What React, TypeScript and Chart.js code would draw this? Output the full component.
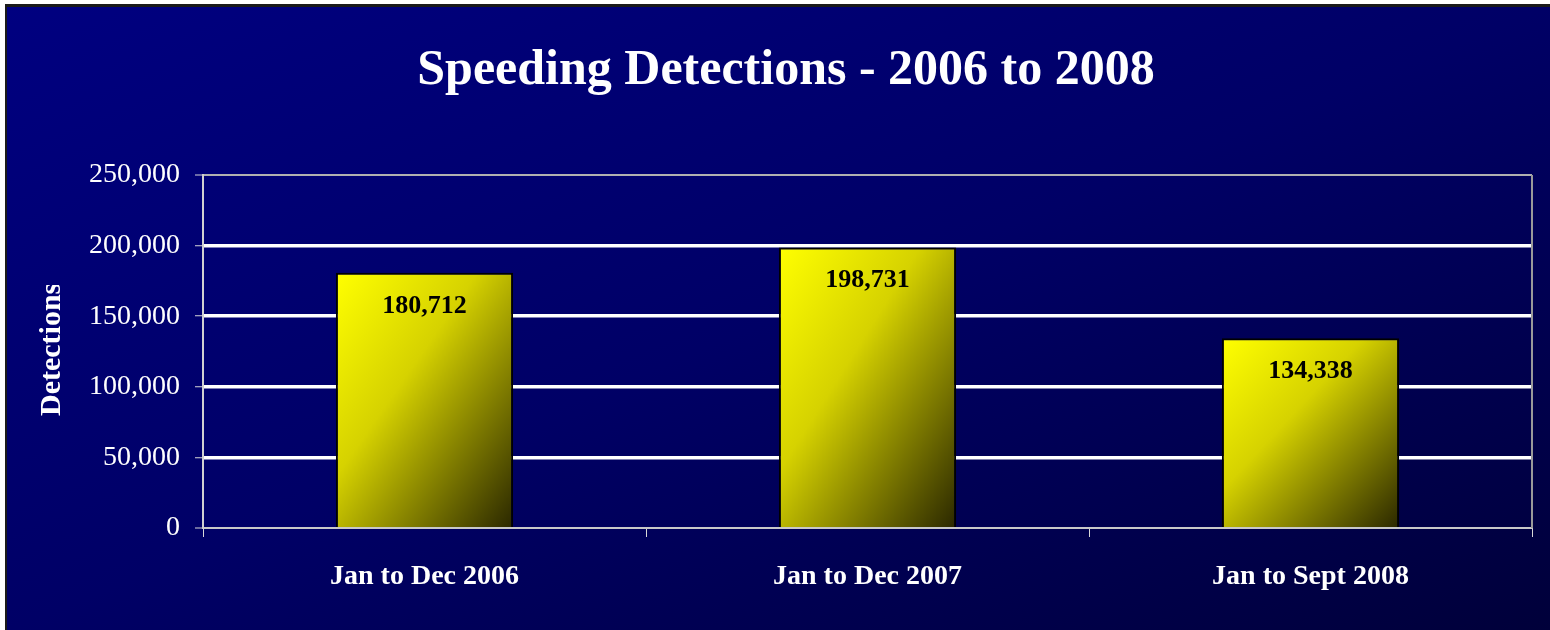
import React, { useEffect, useRef } from "react";
import { Chart, registerables } from "chart.js";

Chart.register(...registerables);

const categories = ["Jan to Dec 2006", "Jan to Dec 2007", "Jan to Sept 2008"];
const detections = [180712, 198731, 134338];
const yTicks = [0, 50000, 100000, 150000, 200000, 250000];
const titleText = "Speeding Detections - 2006 to 2008";
const yTitleText = "Detections";

const SERIF = "'Liberation Serif', 'DejaVu Serif', serif";

const fmt = (v: number) => v.toLocaleString("en-US");

const backgroundPlugin = {
  id: "bgFrame",
  beforeDraw(chart: any) {
    const { ctx, width, height } = chart;
    ctx.save();
    ctx.fillStyle = "#ffffff";
    ctx.fillRect(0, 0, width, height);
    ctx.fillStyle = "#1a1a1a";
    ctx.fillRect(5, 4, width - 5, height - 4);
    const w = width - 7;
    const h = height - 7;
    const f = (2 * w * h) / (w * w + h * h);
    const g = ctx.createLinearGradient(7, 7, 7 + h * f, 7 + w * f);
    g.addColorStop(0, "#000080");
    g.addColorStop(0.5, "#000066");
    g.addColorStop(1, "#00003a");
    ctx.fillStyle = g;
    ctx.fillRect(7, 7, w, h);
    ctx.restore();
  },
};

const decorPlugin = {
  id: "decor",
  afterDraw(chart: any) {
    const { ctx, chartArea } = chart;
    ctx.save();
    // title
    ctx.fillStyle = "#ffffff";
    ctx.font = `bold 50px ${SERIF}`;
    ctx.textAlign = "center";
    ctx.textBaseline = "alphabetic";
    ctx.fillText(titleText, 786, 84);
    // right border of plot area
    ctx.strokeStyle = "#9a9a9a";
    ctx.lineWidth = 2;
    ctx.beginPath();
    ctx.moveTo(chartArea.right, chartArea.top);
    ctx.lineTo(chartArea.right, chartArea.bottom);
    ctx.stroke();
    // data labels
    const meta = chart.getDatasetMeta(0);
    ctx.fillStyle = "#000000";
    ctx.font = `bold 26px ${SERIF}`;
    ctx.textAlign = "center";
    ctx.textBaseline = "middle";
    meta.data.forEach((el: any, i: number) => {
      ctx.fillText(fmt(detections[i]), el.x, el.y + 33);
    });
    // y axis title (clipped like the original)
    ctx.beginPath();
    ctx.rect(0, 285, 200, 300);
    ctx.clip();
    ctx.translate(52, 416);
    ctx.rotate(-Math.PI / 2);
    ctx.fillStyle = "#ffffff";
    ctx.font = `bold 30px ${SERIF}`;
    ctx.textAlign = "left";
    ctx.textBaseline = "middle";
    ctx.fillText(yTitleText, 0, 0);
    ctx.restore();
  },
};

function barGradient(context: any) {
  const chart = context.chart;
  const xs = chart.scales?.x;
  const ys = chart.scales?.y;
  const i = context.dataIndex;
  if (!xs || !ys || i === undefined || !chart.chartArea) return "#ffff00";
  const cx = xs.getPixelForValue(i);
  const bw = (chart.chartArea.right - chart.chartArea.left) / categories.length * 0.4;
  const left = cx - bw / 2;
  const top = ys.getPixelForValue(detections[i]);
  const bottom = ys.getPixelForValue(0);
  const w = bw;
  const h = bottom - top;
  const f = (2 * w * h) / (w * w + h * h);
  const g = chart.ctx.createLinearGradient(left, top, left + h * f, top + w * f);
  g.addColorStop(0, "#ffff00");
  g.addColorStop(0.4, "#d6d200");
  g.addColorStop(1, "#2a2700");
  return g;
}

export default function App() {
  const ref = useRef<HTMLCanvasElement>(null);
  useEffect(() => {
    if (!ref.current) return;
    const chart = new Chart(ref.current, {
      type: "bar",
      data: {
        labels: categories,
        datasets: [
          {
            data: detections,
            backgroundColor: barGradient as any,
            borderColor: "#000000",
            borderWidth: 2,
            borderSkipped: "bottom",
            barPercentage: 0.4,
            categoryPercentage: 1,
          },
        ],
      },
      options: {
        responsive: false,
        animation: false,
        devicePixelRatio: 1,
        layout: { padding: { left: 0, right: 18, top: 175, bottom: 0 } },
        plugins: {
          legend: { display: false },
          tooltip: { enabled: false },
          title: { display: false },
        },
        scales: {
          x: {
            grid: {
              display: true,
              drawOnChartArea: false,
              drawTicks: true,
              offset: true,
              tickLength: 9,
              tickColor: "#d8d8d8",
              tickWidth: 1,
            },
            border: { display: true, color: "#c8c8c8", width: 2 },
            ticks: {
              color: "#ffffff",
              font: { family: SERIF, size: 28, weight: "bold" },
              padding: 23,
            },
            afterFit(scale: any) {
              scale.height = 102;
            },
          },
          y: {
            min: 0,
            max: 250000,
            afterBuildTicks(scale: any) {
              scale.ticks = yTicks.map((v) => ({ value: v }));
            },
            grid: {
              color: (c: any) =>
                c.tick && (c.tick.value === 250000 || c.tick.value === 0) ? "#b0b0b0" : "#ffffff",
              lineWidth: (c: any) =>
                c.tick && (c.tick.value === 250000 || c.tick.value === 0) ? 2 : 3.5,
              tickLength: 8,
              tickColor: "#d8d8d8",
              tickWidth: 1,
            },
            border: { display: true, color: "#d0d0d0", width: 2 },
            ticks: {
              color: "#ffffff",
              font: { family: SERIF, size: 28 },
              padding: 15,
              callback: (v: any) => fmt(Number(v)),
            },
            afterFit(scale: any) {
              scale.width = 203;
            },
          },
        },
      },
      plugins: [backgroundPlugin, decorPlugin],
    });
    return () => chart.destroy();
  }, []);
  return (
    <div style={{ position: "fixed", left: 0, top: 0, width: 1550, height: 630 }}>
      <canvas ref={ref} width={1550} height={630} />
    </div>
  );
}
